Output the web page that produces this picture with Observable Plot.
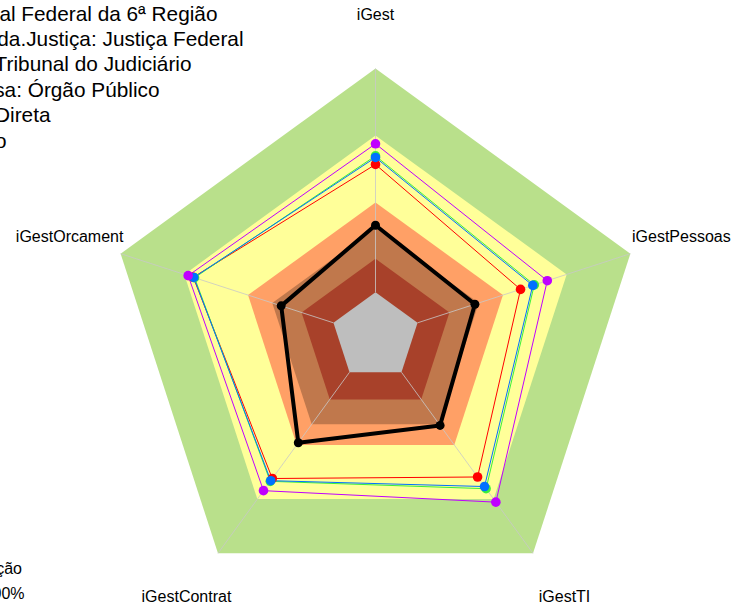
<!DOCTYPE html>
<html><head><meta charset="utf-8">
<script src="https://cdn.jsdelivr.net/npm/d3@7"></script>
<script src="https://cdn.jsdelivr.net/npm/@observablehq/plot@0.6"></script>
<style>body{margin:0;background:#fff;overflow:hidden}</style>
</head><body><div id="chart"></div>
<script>
// ---- data ----
const axes = ["iGest", "iGestPessoas", "iGestTI", "iGestContrat", "iGestOrcament"];
const bandLevels = [1.0, 0.75, 0.5, 0.405, 0.29, 0.165];
const bandColors = ["#b9e08b", "#ffff99", "#ffa066", "#c0784c", "#a8412a", "#bebebe"];
const orgValues = [0.415, 0.39, 0.41, 0.49, 0.37];
const redValues = [0.642, 0.569, 0.648, 0.655, 0.715];
const greenValues = [0.674, 0.623, 0.702, 0.668, 0.71];
const blueValues = [0.668, 0.617, 0.692, 0.665, 0.713];
const magentaValues = [0.719, 0.674, 0.764, 0.711, 0.735];
const seriesNames = ["Vermelho", "Verde", "Azul", "Magenta"];
const seriesColors = ["#ff0000", "#3cf03c", "#0070ff", "#c000ff"];
const infoLines = [
  "Organização: Tribunal Regional Federal da 6ª Região",
  "Segmento.da.Justiça: Justiça Federal",
  "Tipo: Tribunal do Judiciário",
  "Tipo.Empresa: Órgão Público",
  "Administração: Direta",
  "Poder: Judiciário"
];
const legendLines = ["Classificação", "Aprimorado: 70% a 100%"];

// ---- layout ----
const W = 735, H = 607, cx = 375, cy = 336, R = 268;
const ang = i => i * 2 * Math.PI / axes.length;
const px = (v, i) => v * Math.sin(ang(i));
const py = (v, i) => v * Math.cos(ang(i));
const ring = (vals) => [...vals, vals[0]].map((v, k) => {
  const i = k % axes.length;
  return {x: px(v, i), y: py(v, i), axis: axes[i], value: v};
});

const bandMarks = bandLevels.map((lv, j) =>
  Plot.line(ring(axes.map(() => lv)), {x: "x", y: "y", fill: bandColors[j], stroke: "none"})
);
const inner = bandLevels[bandLevels.length - 1];
const spokes = axes.map((a, i) => ({x1: px(inner, i), y1: py(inner, i), x2: px(1, i), y2: py(1, i)}));
const allSeries = [redValues, greenValues, blueValues, magentaValues];
const seriesMarks = allSeries.map((vals, s) =>
  Plot.line(ring(vals), {x: "x", y: "y", stroke: seriesColors[s], strokeWidth: 1})
);
const seriesDots = allSeries.map((vals, s) =>
  Plot.dot(ring(vals).slice(0, axes.length), {x: "x", y: "y", r: 4.8, fill: seriesColors[s], stroke: "none"})
);
const labels = axes.map((a, i) => ({x: px(1.2, i), y: py(1.2, i), label: a}));
const infoEnds = [217, 243, 191, 159, 50, 6];
const infoMarks = infoLines.map((t, k) =>
  Plot.text([t], {text: d => d, frameAnchor: "top-left", dx: infoEnds[k], dy: 20 + k * 25.4,
    textAnchor: "end", lineAnchor: "bottom", fontSize: 20.8, fill: "black"})
);
const legendEnds = [21.5, 24];
const legendMarks = legendLines.map((t, k) =>
  Plot.text([t], {text: d => d, frameAnchor: "top-left", dx: legendEnds[k], dy: 573 + k * 25.5,
    textAnchor: "end", lineAnchor: "bottom", fontSize: 16, fill: "black"})
);

const chart = Plot.plot({
  width: W, height: H, margin: 0,
  style: {fontFamily: "Liberation Sans, Arial, sans-serif", background: "#fff", overflow: "visible"},
  x: {domain: [-cx / R, (W - cx) / R], axis: null},
  y: {domain: [-(H - cy) / R, cy / R], axis: null},
  marks: [
    ...bandMarks,
    Plot.link(spokes, {x1: "x1", y1: "y1", x2: "x2", y2: "y2", stroke: "#c8c8c8", strokeOpacity: 0.8, strokeWidth: 1}),
    ...seriesMarks,
    ...seriesDots,
    Plot.line(ring(orgValues), {x: "x", y: "y", stroke: "black", strokeWidth: 4, strokeLinejoin: "round"}),
    Plot.dot(ring(orgValues).slice(0, axes.length), {x: "x", y: "y", r: 4.5, fill: "black"}),
    Plot.text(labels, {x: "x", y: "y", text: "label", fontSize: 16, fill: "black"}),
    ...infoMarks,
    ...legendMarks
  ]
});
document.getElementById("chart").appendChild(chart);
</script>
</body></html>
